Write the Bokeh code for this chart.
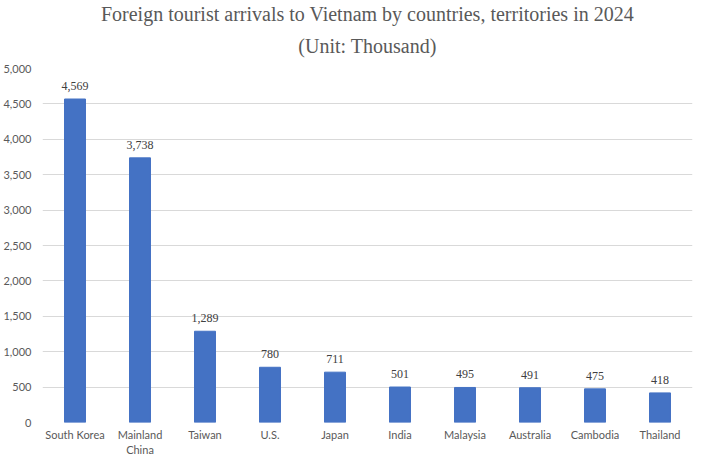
from bokeh.plotting import figure
from bokeh.models import ColumnDataSource, LabelSet, NumeralTickFormatter, FixedTicker, Range1d, FactorRange, Title
from bokeh.embed import file_html
from bokeh.resources import INLINE

countries = ["South Korea", "Mainland\nChina", "Taiwan", "U.S.", "Japan", "India",
             "Malaysia", "Australia", "Cambodia", "Thailand"]
arrivals = [4569, 3738, 1289, 780, 711, 501, 495, 491, 475, 418]
y_ticks = [0, 500, 1000, 1500, 2000, 2500, 3000, 3500, 4000, 4500, 5000]
title_line1 = "Foreign tourist arrivals to Vietnam by countries, territories in 2024"
title_line2 = "(Unit: Thousand)"

src = ColumnDataSource(dict(x=countries, y=arrivals, lbl=[f"{v:,}" for v in arrivals]))

p = figure(frame_width=650, frame_height=354, x_range=FactorRange(*countries, range_padding=0),
           y_range=Range1d(0, 5000), output_backend="svg", toolbar_location=None,
           min_border_left=0, min_border_right=2, min_border_top=0, min_border_bottom=0)

def style_title(t, standoff, valign):
    t.align = "center"
    t.vertical_align = valign
    t.text_font = "Liberation Serif"
    t.text_font_size = "20px"
    t.text_font_style = "normal"
    t.text_color = "#595959"
    t.standoff = standoff

p.title.text = title_line1
style_title(p.title, 0, "bottom")
t2 = Title(text=title_line2)
style_title(t2, 20, "top")
p.add_layout(t2, "above")

p.vbar(x="x", top="y", width=0.323, source=src, color="#4472C4")

labels = LabelSet(x="x", y="y", text="lbl", source=src, y_offset=13, text_align="center",
                  text_baseline="middle", text_font="Lato", text_font_size="12px", text_color="#404040")
p.add_layout(labels)

p.outline_line_color = None
p.xgrid.grid_line_color = None
p.ygrid.grid_line_color = "#d9d9d9"
p.yaxis.ticker = FixedTicker(ticks=y_ticks)
p.yaxis.formatter = NumeralTickFormatter(format="0,0")
for ax in (p.xaxis, p.yaxis):
    ax.axis_line_color = None
    ax.major_tick_line_color = None
    ax.minor_tick_line_color = None
    ax.major_tick_out = 0
    ax.major_tick_in = 0
    ax.major_label_text_font = "Lato"
    ax.major_label_text_font_size = "11px"
    ax.major_label_text_color = "#595959"
p.yaxis.major_label_standoff = 11
p.xaxis.major_label_standoff = 5

open("out.html", "w").write(file_html(p, INLINE))
